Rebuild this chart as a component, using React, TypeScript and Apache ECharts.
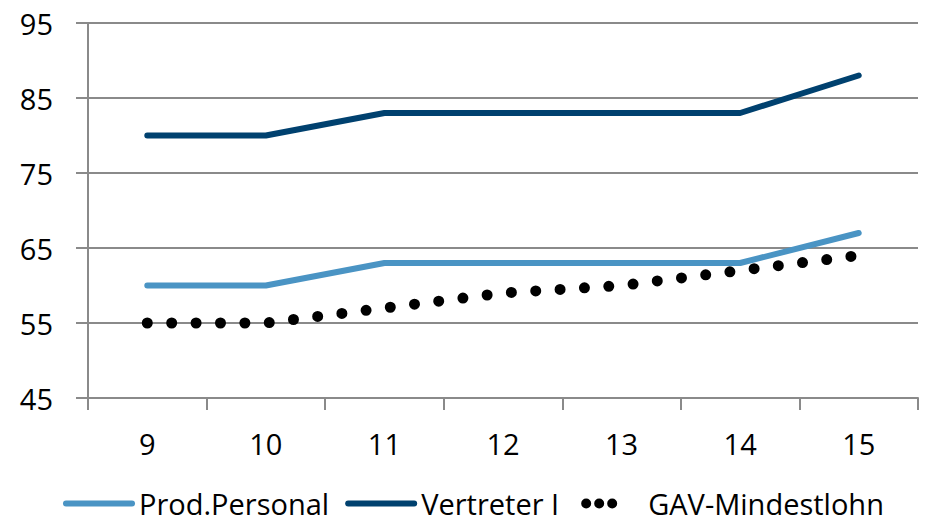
import React, { useEffect, useRef } from "react";
import * as echarts from "echarts";

const categories = ["9", "10", "11", "12", "13", "14", "15"];
const prodPersonal = [60, 60, 63, 63, 63, 63, 67];
const vertreter = [80, 80, 83, 83, 83, 83, 88];
const gavMindestlohn = [55, 55, 57, 59, 60, 62, 64];

const FONT = "'Open Sans', 'Noto Sans', sans-serif";

// legend icon for the dotted series: three dots, padded to a 66x14 box
const dot = (cx: number) => `M${cx - 5} 7a5 5 0 1 0 10 0a5 5 0 1 0 -10 0Z`;
const dotsIcon =
  "path://M0 0L0.01 0L0.01 0.01Z M65.99 13.99L66 13.99L66 14Z" + dot(11) + dot(24) + dot(37);

export default function App() {
  const ref = useRef<HTMLDivElement>(null);
  useEffect(() => {
    if (!ref.current) return;
    const chart = echarts.init(ref.current, undefined, { renderer: "svg" });
    chart.setOption({
      animation: false,
      backgroundColor: "#ffffff",
      grid: { left: 88, right: 8, top: 23, bottom: 126, containLabel: false },
      legend: {
        top: 484,
        left: 58,
        itemWidth: 66,
        itemHeight: 14,
        itemGap: 16,
        lineStyle: { width: "inherit", type: "inherit", cap: "inherit" },
        itemStyle: { opacity: 0 },
        textStyle: { fontFamily: FONT, fontSize: 29, color: "#000", padding: [0, 0, 0, 2] },
        data: [
          { name: "Prod.Personal" },
          { name: "Vertreter I", textStyle: { width: 148 } },
          {
            name: "GAV-Mindestlohn",
            icon: dotsIcon,
            itemStyle: { opacity: 1, color: "#000000" },
          },
        ],
      },
      xAxis: {
        type: "category",
        data: categories,
        boundaryGap: true,
        axisLine: { lineStyle: { color: "#8a8a8a", width: 2 } },
        axisTick: { show: true, length: 12, lineStyle: { color: "#8a8a8a", width: 2 } },
        axisLabel: { fontFamily: FONT, fontSize: 29, color: "#000", margin: 31 },
      },
      yAxis: {
        type: "value",
        min: 45,
        max: 95,
        interval: 10,
        axisLine: { show: true, lineStyle: { color: "#8a8a8a", width: 2 } },
        axisTick: { show: true, length: 12, lineStyle: { color: "#8a8a8a", width: 2 } },
        splitLine: { show: true, lineStyle: { color: "#8a8a8a", width: 2 } },
        axisLabel: { fontFamily: FONT, fontSize: 29, color: "#000", margin: 35 },
      },
      series: [
        {
          name: "Prod.Personal",
          type: "line",
          data: prodPersonal,
          symbol: "none",
          lineStyle: { color: "#4A94C4", width: 6, cap: "round", join: "round" },
          itemStyle: { color: "#4A94C4" },
        },
        {
          name: "Vertreter I",
          type: "line",
          data: vertreter,
          symbol: "none",
          lineStyle: { color: "#00416F", width: 6, cap: "round", join: "round" },
          itemStyle: { color: "#00416F" },
        },
        {
          name: "GAV-Mindestlohn",
          type: "line",
          data: gavMindestlohn,
          symbol: "none",
          lineStyle: { color: "#000000", width: 11, type: [0, 24.4], cap: "round", join: "round" },
          itemStyle: { color: "#000000" },
        },
      ],
    });
    return () => chart.dispose();
  }, []);
  return (
    <div
      ref={ref}
      style={{ position: "absolute", left: 0, top: 0, width: 926, height: 524 }}
    />
  );
}
